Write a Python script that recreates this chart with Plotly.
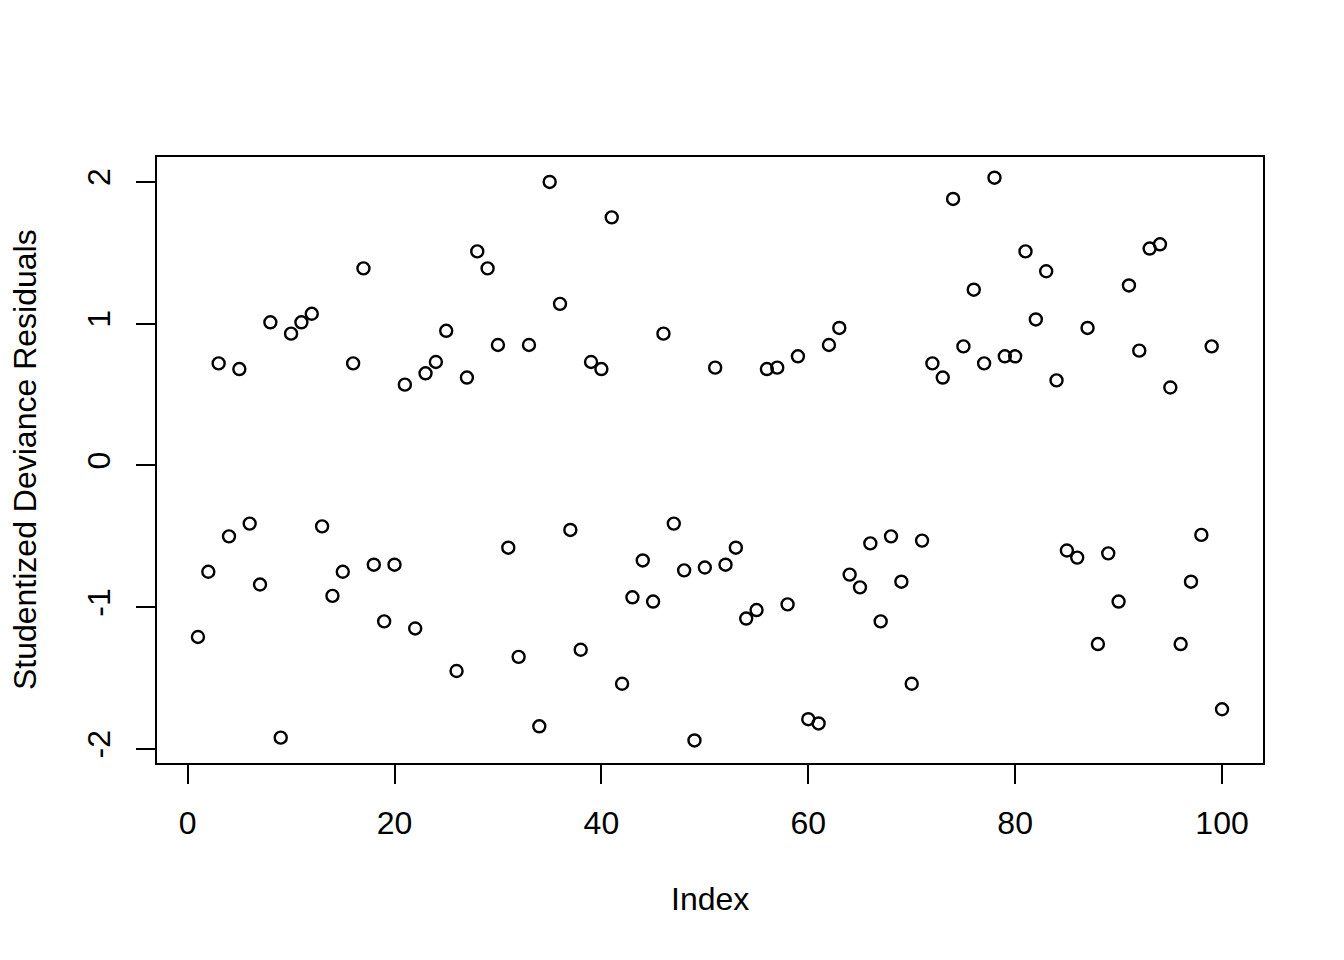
import plotly.graph_objects as go

index = list(range(1, 101))
residuals = [
    -1.21, -0.75, 0.72, -0.50, 0.68, -0.41, -0.84, 1.01, -1.92, 0.93,
    1.01, 1.07, -0.43, -0.92, -0.75, 0.72, 1.39, -0.70, -1.10, -0.70,
    0.57, -1.15, 0.65, 0.73, 0.95, -1.45, 0.62, 1.51, 1.39, 0.85,
    -0.58, -1.35, 0.85, -1.84, 2.00, 1.14, -0.455, -1.30, 0.73, 0.68,
    1.75, -1.54, -0.93, -0.67, -0.96, 0.93, -0.41, -0.74, -1.94, -0.72,
    0.69, -0.70, -0.58, -1.08, -1.02, 0.68, 0.69, -0.98, 0.77, -1.79,
    -1.82, 0.85, 0.97, -0.77, -0.86, -0.55, -1.10, -0.50, -0.82, -1.54,
    -0.53, 0.72, 0.62, 1.88, 0.84, 1.24, 0.72, 2.03, 0.77, 0.77,
    1.51, 1.03, 1.37, 0.60, -0.60, -0.65, 0.97, -1.26, -0.62, -0.96,
    1.27, 0.81, 1.53, 1.56, 0.55, -1.26, -0.82, -0.49, 0.84, -1.72,
]
x_ticks = [0, 20, 40, 60, 80, 100]
y_ticks = [-2, -1, 0, 1, 2]
x_title = "Index"
y_title = "Studentized Deviance Residuals"

FONT = "Arial, Liberation Sans, sans-serif"

fig = go.Figure(go.Scatter(
    x=index, y=residuals, mode="markers",
    marker=dict(symbol="circle", size=12, color="rgba(0,0,0,0)",
                line=dict(width=2.4, color="black")),
    showlegend=False, hoverinfo="x+y",
))

fig.update_layout(
    width=1344, height=960,
    margin=dict(l=149, r=89, t=149, b=205),
    paper_bgcolor="white", plot_bgcolor="white",
    font=dict(family=FONT, size=32, color="black"),
    xaxis=dict(range=[-2.96, 103.96], tickvals=x_ticks, ticktext=[str(v) for v in x_ticks],
               ticks="outside", ticklen=19, tickwidth=2, tickcolor="black",
               showline=True, linecolor="black", linewidth=2, mirror=True,
               showgrid=False, zeroline=False, ticklabelstandoff=12,
               tickfont=dict(size=32)),
    yaxis=dict(range=[-2.099, 2.176], tickvals=y_ticks, ticktext=[str(v) for v in y_ticks],
               ticks="outside", ticklen=19, tickwidth=2, tickcolor="black",
               showline=True, linecolor="black", linewidth=2, mirror=True,
               showgrid=False, zeroline=False, tickangle=-90, ticklabelstandoff=13,
               tickfont=dict(size=32)),
    annotations=[
        dict(text=x_title, xref="paper", yref="paper", x=0.5, y=-0.2244,
             xanchor="center", yanchor="middle", showarrow=False, font=dict(size=32)),
        dict(text=y_title, xref="paper", yref="paper", x=-0.1193, y=0.5, textangle=-90,
             xanchor="center", yanchor="middle", showarrow=False, font=dict(size=32)),
    ],
)

fig.write_html("out.html")
